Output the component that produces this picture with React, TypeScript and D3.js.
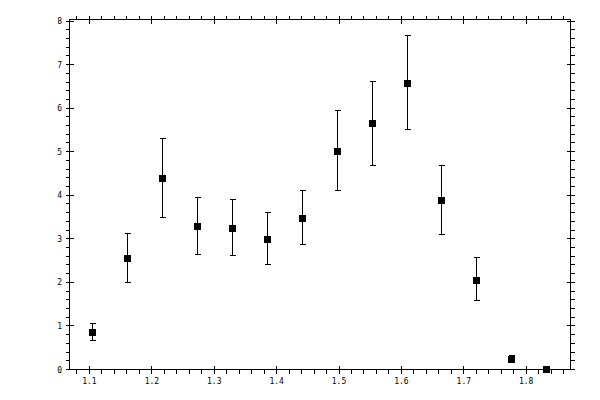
import * as React from "react";
import * as d3 from "d3";

// bin centres, measured values and asymmetric error bounds
const xs = [1.105, 1.161, 1.217, 1.273, 1.329, 1.385, 1.441, 1.497, 1.553, 1.609, 1.665, 1.721, 1.777, 1.833];
const ys = [0.85, 2.56, 4.39, 3.29, 3.25, 3.0, 3.48, 5.01, 5.66, 6.57, 3.89, 2.06, 0.245, 0.015];
const hi = [1.05, 3.12, 5.31, 3.96, 3.91, 3.61, 4.1, 5.95, 6.62, 7.66, 4.69, 2.56, 0.32, 0.02];
const lo = [0.66, 1.99, 3.5, 2.63, 2.61, 2.4, 2.88, 4.1, 4.69, 5.52, 3.11, 1.575, 0.19, 0.01];

const xMajor = [1.1, 1.2, 1.3, 1.4, 1.5, 1.6, 1.7, 1.8];
const yMajor = [0, 1, 2, 3, 4, 5, 6, 7, 8];

const W = 600;
const H = 400;
const L = 69.5, R = 570.5, T = 19.5, B = 369.5;

const App: React.FC = () => {
  const x = d3.scaleLinear().domain([1.068, 1.871]).range([L, R]);
  const y = d3.scaleLinear().domain([0, 8.035]).range([B, T]);
  const xMinor = d3.range(54, 94).map(i => i * 0.02).filter(v => v > 1.068 && v < 1.871);
  const yMinor = d3.range(0, 41).map(i => i * 0.2);
  const snap = (v: number) => Math.round(v - 0.5) + 0.5;
  const font = "'DejaVu Sans Mono', monospace";

  return <svg width={W} height={H} style={{ position: "fixed", left: 0, top: 0, background: "#fff" }}>
    <rect x={0} y={0} width={W} height={H} fill="#fff" />
    <g stroke="#000" strokeWidth={1} fill="none" shapeRendering="crispEdges">
      <rect x={L} y={T} width={R - L} height={B - T} />
      {xMinor.map((v, i) => {
        const px = snap(x(v));
        return <g key={"xm" + i}>
          <line x1={px} x2={px} y1={B} y2={B + 4} />
          <line x1={px} x2={px} y1={T} y2={T - 4} />
        </g>;
      })}
      {xMajor.map((v, i) => {
        const px = snap(x(v));
        return <g key={"xM" + i}>
          <line x1={px} x2={px} y1={B - 4} y2={B + 4} />
          <line x1={px} x2={px} y1={T - 4} y2={T + 4} />
        </g>;
      })}
      {yMinor.map((v, i) => {
        const py = snap(y(v));
        return <g key={"ym" + i}>
          <line x1={L} x2={L - 4} y1={py} y2={py} />
          <line x1={R} x2={R + 4} y1={py} y2={py} />
        </g>;
      })}
      {yMajor.map((v, i) => {
        const py = snap(y(v));
        return <g key={"yM" + i}>
          <line x1={L - 4} x2={L + 4} y1={py} y2={py} />
          <line x1={R - 4} x2={R + 4} y1={py} y2={py} />
        </g>;
      })}
    </g>
    <g fontFamily={font} fontSize={8} fill="#000">
      {xMajor.map((v, i) =>
        <text key={"xl" + i} x={x(v)} y={384} textAnchor="middle">{d3.format(".1f")(v)}</text>)}
      {yMajor.map((v, i) =>
        <text key={"yl" + i} x={62} y={y(v) + 3} textAnchor="end">{v}</text>)}
    </g>
    <g stroke="#000" strokeWidth={1} shapeRendering="crispEdges">
      {xs.map((v, i) => {
        const px = snap(x(v));
        return <g key={"p" + i}>
          <line x1={px} x2={px} y1={y(hi[i])} y2={y(lo[i])} />
          <line x1={px - 3} x2={px + 3} y1={snap(y(hi[i]))} y2={snap(y(hi[i]))} />
          <line x1={px - 3} x2={px + 3} y1={snap(y(lo[i]))} y2={snap(y(lo[i]))} />
          <rect x={px - 3.5} y={Math.round(y(ys[i])) - 3.5} width={7} height={7} fill="#000" stroke="none" />
        </g>;
      })}
    </g>
  </svg>;
};

export default App;
